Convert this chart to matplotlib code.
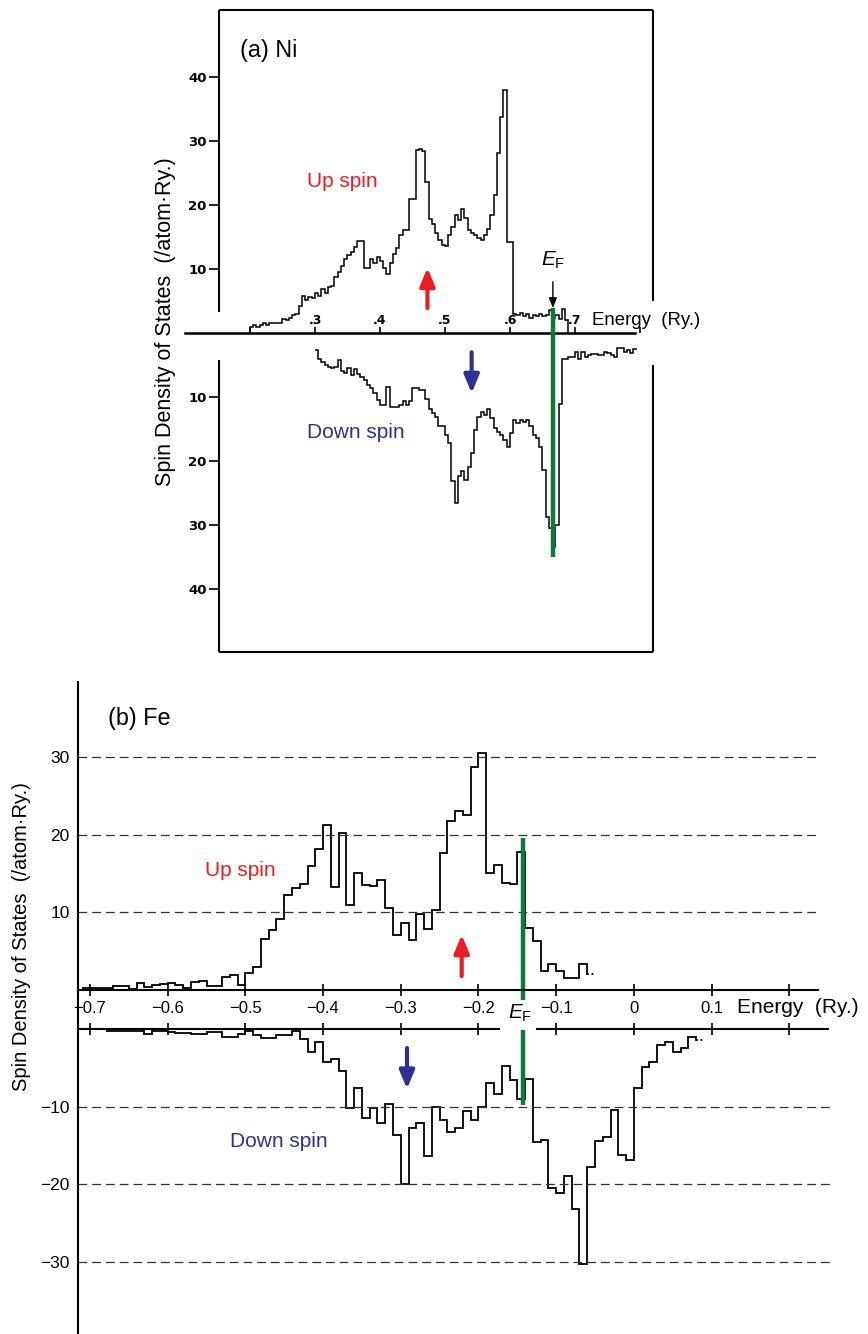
import numpy as np
import matplotlib.pyplot as plt

plt.rcParams['font.family'] = ['Liberation Sans', 'DejaVu Sans']
plt.rcParams['mathtext.fontset'] = 'custom'
plt.rcParams['mathtext.rm'] = 'Liberation Sans'
plt.rcParams['mathtext.it'] = 'Liberation Sans:italic'

W, H = 868, 1334
RED = '#ED1C24'
BLUE = '#2E3192'
GREEN = '#0B7A3B'

# -------------------------
# (a) Ni  - histogram bins of 0.005 Ry
# -------------------------
NI_BIN = 0.005
NI_UP_START = 0.200
ni_up = [1.0, 1.3, 1.0, 1.2, 1.5, 1.3, 1.5, 1.6, 1.5, 1.6,
         2.2, 2.0, 2.4, 2.8, 3.0, 4.2, 5.8, 5.2, 5.6, 5.4,
         6.2, 5.8, 6.8, 6.2, 7.2, 7.4, 8.8, 9.6, 10.4, 11.6,
         12.2, 12.6, 13.4, 14.4, 14.4, 10.2, 10.2, 11.6, 11.0, 11.9,
         11.2, 10.1, 9.2, 11.0, 12.3, 13.3, 15.3, 16.1, 16.1, 21.0,
         21.0, 28.6, 28.8, 28.4, 23.6, 17.8, 17.1, 15.6, 14.5, 13.8,
         13.6, 15.3, 16.6, 18.4, 17.7, 19.4, 18.0, 16.1, 15.6, 15.3,
         14.8, 14.5, 15.3, 16.3, 18.4, 21.6, 28.1, 33.8, 38.0, 14.2,
         14.2, 3.0, 2.8, 3.2, 2.6, 3.0, 2.4, 2.8, 2.6, 3.0,
         2.6, 2.8, 3.6, 2.4, 2.8, 2.2, 3.8, 2.0]
NI_DN_START = 0.300
ni_dn = [2.7, 4.0, 4.5, 5.0, 5.3, 5.5, 5.3, 4.2, 5.9, 6.3,
         5.5, 6.5, 5.6, 6.4, 6.8, 7.3, 8.1, 8.6, 9.4, 10.5,
         11.3, 11.3, 8.4, 11.5, 11.6, 11.5, 11.3, 10.7, 11.3, 10.7,
         8.6, 8.6, 8.9, 8.9, 10.3, 11.8, 12.5, 13.1, 14.6, 14.6,
         15.9, 17.2, 23.2, 26.6, 22.3, 21.5, 23.0, 20.9, 18.8, 15.2,
         13.1, 12.3, 12.8, 11.8, 13.3, 14.9, 15.4, 16.0, 16.7, 17.8,
         15.7, 13.6, 14.0, 13.6, 13.9, 13.6, 14.6, 15.9, 16.4, 17.8,
         21.4, 28.7, 30.5, 33.4, 30.0, 11.1, 4.0, 4.0, 3.7, 3.7,
         2.9, 4.0, 2.9, 3.7, 3.5, 3.3, 3.3, 3.5, 3.5, 2.9,
         3.2, 3.5, 3.8, 2.3, 2.4, 2.9, 2.6, 3.2, 2.5]
NI_EF = 0.666
NI_XTICKS = [0.2, 0.3, 0.4, 0.5, 0.6, 0.7, 0.8]
NI_XLABELS = ['', '.3', '.4', '.5', '.6', '.7', '']
NI_YTICKS = [40, 30, 20, 10, -10, -20, -30, -40]
NI_YLABELS = ['40', '30', '20', '10', '10', '20', '30', '40']

# -------------------------
# (b) Fe  - histogram bins of 0.01 Ry
# -------------------------
FE_BIN = 0.01
FE_UP_START = -0.71
fe_up = [0.2, 0.3, 0.3, 0.3, 0.5, 0.5, 0.1, 0.9, 0.4, 0.6,
         0.8, 0.9, 0.6, 0.3, 1.0, 1.2, 0.5, 0.5, 1.7, 1.9,
         0.6, 2.2, 3.0, 6.6, 7.7, 9.1, 12.2, 13.1, 13.6, 16.0,
         18.1, 21.3, 13.3, 20.2, 11.0, 15.0, 13.5, 13.4, 14.2, 10.6,
         7.1, 8.6, 6.4, 9.8, 7.8, 10.3, 17.6, 21.8, 23.0, 22.5,
         28.7, 30.5, 15.0, 16.1, 13.8, 13.6, 17.8, 8.0, 6.3, 2.5,
         3.4, 2.4, 1.5, 1.5, 3.3, 2.1]
FE_DN_START = -0.68
fe_dn = [0.2, 0.2, 0.3, 0.3, 0.3, 0.7, 0.3, 0.3, 0.4, 0.5,
         0.5, 0.7, 0.7, 0.4, 0.4, 1.0, 1.0, 0.7, 0.2, 0.8,
         1.1, 1.1, 0.8, 0.8, 0.2, 1.3, 2.9, 1.7, 4.2, 3.8,
         5.4, 10.2, 7.6, 11.5, 10.2, 12.1, 9.6, 13.6, 19.9, 12.8,
         12.1, 16.3, 10.0, 11.7, 13.3, 12.7, 10.6, 11.7, 10.1, 7.0,
         8.4, 4.7, 6.6, 9.0, 6.4, 14.5, 14.3, 20.5, 21.1, 18.9,
         23.2, 30.2, 17.8, 14.4, 13.9, 10.4, 16.2, 16.8, 7.6, 4.9,
         4.3, 2.0, 1.7, 2.9, 2.5, 1.0, 1.4]
FE_EF = -0.1425
FE_XTICKS = [-0.7, -0.6, -0.5, -0.4, -0.3, -0.2, -0.1, 0.0, 0.1, 0.2]
FE_XLABELS = ['\u22120.7', '\u22120.6', '\u22120.5', '\u22120.4', '\u22120.3',
              '\u22120.2', '\u22120.1', '0', '0.1', '']
FE_UP_YTICKS = [10, 20, 30]
FE_DN_YTICKS = [-10, -20, -30]

YLABEL = 'Spin Density of States  (/atom\u00b7Ry.)'


def box(x0, y0, x1, y1):
    return [x0 / W, 1 - y1 / H, (x1 - x0) / W, (y1 - y0) / H]


def edges(start, step, n):
    return start + step * np.arange(n + 1)


fig = plt.figure(figsize=(W / 100, H / 100), dpi=100)

# =========================
# (a) Ni
# =========================
ax = fig.add_axes(box(185, 10, 660, 652))
ax.patch.set_visible(False)
ax.set_xlim(0.1, 0.8308)
ax.set_ylim(-49.84, 50.47)
for s in ax.spines.values():
    s.set_visible(False)
L, R, TOP, BOT = 0.1523, 0.82, 50.47, -49.84
kw = dict(color='k', lw=1.5, clip_on=False, solid_capstyle='butt')
ax.plot([L, R], [TOP, TOP], **kw)
ax.plot([L, R], [BOT, BOT], **kw)
ax.plot([L, L], [3.3, TOP], **kw)
ax.plot([L, L], [-4.2, BOT], **kw)
ax.plot([R, R], [5.0, TOP], **kw)
ax.plot([R, R], [-5.0, BOT], **kw)
ax.plot([0.1, 0.792], [0, 0], color='k', lw=1.8, clip_on=False)

ax.spines['left'].set_position(('data', L))
ax.spines['top'].set_position(('data', 0))
ax.xaxis.tick_top()
ax.set_xticks(NI_XTICKS, NI_XLABELS)
ax.set_yticks(NI_YTICKS, NI_YLABELS)
ax.tick_params(axis='y', direction='out', length=7, width=1.2, pad=2, labelsize=9.5)
ax.tick_params(axis='x', direction='out', length=4, width=1.2, pad=0, labelsize=9)
for t in ax.get_xticklabels() + ax.get_yticklabels():
    t.set_fontweight('bold')
    t.set_family('DejaVu Sans')

ax.stairs(ni_up, edges(NI_UP_START, NI_BIN, len(ni_up)), baseline=0,
          color='k', lw=1.1)
ax.stairs(-np.array(ni_dn), edges(NI_DN_START, NI_BIN, len(ni_dn)),
          baseline=None, color='k', lw=1.1)

ax.plot([NI_EF, NI_EF], [-35.0, 3.9], color=GREEN, lw=3.2, solid_capstyle='butt')
ax.annotate('', xy=(NI_EF, 3.9), xytext=(NI_EF, 8.0),
            arrowprops=dict(arrowstyle='-|>,head_width=0.2,head_length=0.5',
                            color='k', lw=1.0, mutation_scale=12,
                            shrinkA=0, shrinkB=0))
ax.text(NI_EF, 11.3, r'$E_{\mathrm{F}}$', ha='center', va='center', fontsize=15)

ax.annotate('', xy=(0.473, 10.2), xytext=(0.473, 3.9),
            arrowprops=dict(arrowstyle='-|>,head_width=0.25,head_length=0.6',
                            color=RED, lw=3, mutation_scale=18,
                            shrinkA=0, shrinkB=0))
ax.annotate('', xy=(0.541, -9.4), xytext=(0.541, -3.0),
            arrowprops=dict(arrowstyle='-|>,head_width=0.25,head_length=0.6',
                            color=BLUE, lw=3, mutation_scale=18,
                            shrinkA=0, shrinkB=0))

ax.text(0.1846, 44.2, '(a) Ni', fontsize=16.8, va='center')
ax.text(0.2877, 23.6, 'Up spin', fontsize=15, color=RED, va='center')
ax.text(0.2877, -15.5, 'Down spin', fontsize=15, color=BLUE, va='center')
ax.text(0.726, 2.0, 'Energy  (Ry.)', fontsize=13.4, va='center')
fig.text(166 / W, 1 - 322 / H, YLABEL, rotation=90, fontsize=15.5,
         ha='center', va='center')

# =========================
# (b) Fe
# =========================
FE_XLIM = (-0.7154, 0.2524)
axu = fig.add_axes(box(78, 681.7, 830, 990))
axd = fig.add_axes(box(78, 990, 830, 1334))
axu.patch.set_visible(False)
axd.patch.set_visible(False)
axu.set_xlim(*FE_XLIM)
axd.set_xlim(*FE_XLIM)
axu.set_ylim(0, 39.68)
axd.set_ylim(-39.25, 5.02)

for s in ['top', 'right']:
    axu.spines[s].set_visible(False)
for s in ['top', 'right', 'bottom']:
    axd.spines[s].set_visible(False)
axu.spines['left'].set_linewidth(1.5)
axd.spines['left'].set_linewidth(1.5)
axu.spines['bottom'].set_linewidth(1.5)
axu.spines['bottom'].set_bounds(FE_XLIM[0], 0.2375)

axu.set_xticks(FE_XTICKS, FE_XLABELS)
axu.tick_params(axis='x', direction='inout', length=8, width=1.2, pad=4,
                labelsize=12)
axu.set_yticks(FE_UP_YTICKS, [str(v) for v in FE_UP_YTICKS])
axu.tick_params(axis='y', length=0, pad=6, labelsize=12.5)

axd.spines['top'].set_position(('data', 0))
axd.xaxis.tick_top()
axd.set_xticks(FE_XTICKS, [''] * len(FE_XTICKS))
axd.tick_params(axis='x', direction='inout', length=8, width=1.2)
axd.set_yticks(FE_DN_YTICKS, ['\u2212' + str(-v) for v in FE_DN_YTICKS])
axd.tick_params(axis='y', length=0, pad=6, labelsize=12.5)
axd.plot([FE_XLIM[0], -0.1736], [0, 0], color='k', lw=1.5, clip_on=False)
axd.plot([-0.1247, 0.2498], [0, 0], color='k', lw=1.5, clip_on=False)

dash = (0, (7, 4))
for g in FE_UP_YTICKS:
    axu.axhline(g, xmax=0.984, color='#333333', lw=0.9, ls=dash)
for g in FE_DN_YTICKS:
    axd.axhline(g, color='#333333', lw=0.9, ls=dash)

e_up = edges(FE_UP_START, FE_BIN, len(fe_up))
axu.stairs(fe_up[:-1], e_up[:-1], baseline=None, color='k', lw=1.3, clip_on=False)
axu.plot([e_up[-2], e_up[-2]], [fe_up[-2], fe_up[-1]], color='k', lw=1.3)
axu.hlines(fe_up[-1], e_up[-2], e_up[-1], color='k', lw=1.3, linestyles=(0, (1, 1.5)))

dn = -np.array(fe_dn)
e_dn = edges(FE_DN_START, FE_BIN, len(fe_dn))
axd.stairs(dn[:-1], e_dn[:-1], baseline=None, color='k', lw=1.3, clip_on=False)
axd.plot([e_dn[-2], e_dn[-2]], [dn[-2], dn[-1]], color='k', lw=1.3)
axd.hlines(dn[-1], e_dn[-2], e_dn[-1], color='k', lw=1.3, linestyles=(0, (1, 1.5)))

axu.plot([FE_EF, FE_EF], [-1.3, 19.5], color=GREEN, lw=3.2, clip_on=False,
         solid_capstyle='butt')
axd.plot([FE_EF, FE_EF], [-0.1, -9.8], color=GREEN, lw=3.2, solid_capstyle='butt')
axd.text(-0.146, 2.0, r'$E_{\mathrm{F}}$', ha='center', va='center', fontsize=15)

axu.annotate('', xy=(-0.2216, 7.1), xytext=(-0.2216, 1.8),
             arrowprops=dict(arrowstyle='-|>,head_width=0.25,head_length=0.6',
                             color=RED, lw=3, mutation_scale=18,
                             shrinkA=0, shrinkB=0))
axd.annotate('', xy=(-0.292, -7.7), xytext=(-0.292, -2.45),
             arrowprops=dict(arrowstyle='-|>,head_width=0.25,head_length=0.6',
                             color=BLUE, lw=3, mutation_scale=18,
                             shrinkA=0, shrinkB=0))

axu.text(-0.6768, 35.0, '(b) Fe', fontsize=16.8, va='center')
axu.text(-0.552, 15.4, 'Up spin', fontsize=15, color=RED, va='center')
axd.text(-0.5198, -14.5, 'Down spin', fontsize=15, color=BLUE, va='center')
axu.text(0.1327, -2.19, 'Energy  (Ry.)', fontsize=15, va='center', clip_on=False)
fig.text(22 / W, 1 - 937 / H, YLABEL, rotation=90, fontsize=14.5,
         ha='center', va='center')

fig.savefig('out.png', dpi=100)
